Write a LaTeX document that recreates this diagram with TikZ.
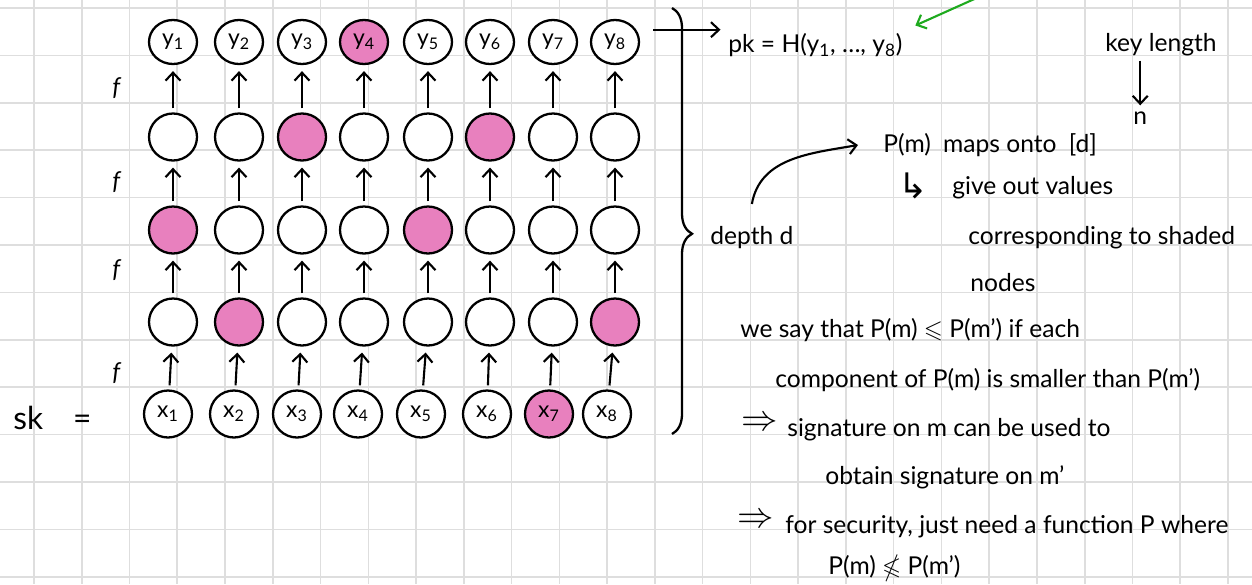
\documentclass[tikz,border=0pt]{standalone}
\usepackage{fontspec}
\setmainfont{Lato}
\newfontfamily\symfont{DejaVu Sans}
\usepackage{amssymb}
\usetikzlibrary{shapes.geometric, arrows.meta, decorations.pathreplacing, positioning}
\definecolor{shade}{RGB}{232,128,190}
\definecolor{gridgrey}{RGB}{222,222,222}
\definecolor{pengreen}{RGB}{30,170,30}

\begin{document}
\begin{tikzpicture}[
    x=0.2mm, y=-0.2mm,
    bit/.style={ellipse, draw, line width=1.3pt, minimum width=9.6mm, minimum height=9.4mm, inner sep=0pt, font=\fontsize{13}{15}\selectfont},
    arr/.style={-{Straight Barb[length=1.6mm,width=3mm]}, line width=1.2pt, shorten <=0.8mm, shorten >=1.2mm},
    note/.style={anchor=west, inner sep=0pt, font=\fontsize{14}{16}\selectfont},
    gridline/.style={gridgrey, line width=0.9pt}
]
    \useasboundingbox (0,0) rectangle (1252,584);

    % Grid paper
    \foreach \k in {0,...,25} \draw[gridline] (34+47.76*\k,0) -- (34+47.76*\k,584);
    \foreach \k in {0,...,12} \draw[gridline] (0,8+47.4*\k) -- (1252,8+47.4*\k);

    % Chains x_i -> ... -> y_i
    \foreach \i/\cx/\bx/\fy/\fa/\fb/\fc/\fx in {
        1/173/168/white/white/shade/white/white,
        2/239/234/white/white/white/shade/white,
        3/302/297/white/shade/white/white/white,
        4/364/358/shade/white/white/white/white,
        5/428/421/white/white/shade/white/white,
        6/490/487/white/shade/white/white/white,
        7/553/549/white/white/white/white/shade,
        8/615/607/white/white/white/shade/white}{
        \node[bit, fill=\fy, minimum height=8.8mm] (y\i) at (\cx,42) {y\textsubscript{\i}};
        \node[bit, fill=\fa] (a\i) at (\cx,137) {};
        \node[bit, fill=\fb] (b\i) at (\cx,230) {};
        \node[bit, fill=\fc] (c\i) at (\cx,322) {};
        \node[bit, fill=\fx] (x\i) at (\bx,414) {x\textsubscript{\i}};
        \draw[arr] (x\i) -- (c\i);
        \draw[arr] (c\i) -- (b\i);
        \draw[arr] (b\i) -- (a\i);
        \draw[arr] (a\i) -- (y\i);
    }

    % f labels and sk
    \node[note] (f1) at (112,88) {\textit{f}};
    \node[note] (f2) at (112,182) {\textit{f}};
    \node[note] (f3) at (112,270) {\textit{f}};
    \node[note] (f4) at (112,373) {\textit{f}};
    \node[note, font=\fontsize{18}{20}\selectfont] (sk) at (13,418) {sk\hspace{6mm}=};

    % Brace over the depth
    \draw[line width=1.3pt, decorate, decoration={brace, amplitude=4mm, aspect=0.53}] (672,8) -- (672,434);
    \node[note] (depth) at (710,238) {depth d};

    % Public key
    \node[note] (pk) at (728,45) {pk = H(y\textsubscript{1}, …, y\textsubscript{8})};
    \draw[arr, shorten <=3.4mm, shorten >=1.5mm] (y8.30) -- (y8.30 -| pk.west);
    \coordinate (hashnote) at (990,-8);
    \draw[arr, pengreen, shorten <=0pt, shorten >=0pt] (hashnote) -- ([xshift=2.5mm,yshift=1.5mm]pk.north east);

    \node[note] (keylen) at (1105,45) {key length};
    \node[note] (keyexp) at (1133,118) {n};
    \draw[arr] (keyexp |- keylen.south) -- (keyexp.north);

    \node[note] (maps) at (883,145) {P(m)\enspace maps onto\enspace [d]};
    \draw[arr, shorten <=0pt, shorten >=0pt] ([yshift=4.5mm]depth.north) to[out=80, in=190] ([xshift=-5mm]maps.west);

    \node[note] (hook) at (898,186) {{\symfont\fontsize{20}{22}\selectfont ↳}};
    \node[note] (give) at (952,188) {give out values};
    \node[note] (shaded) at (968,238) {corresponding to shaded};
    \node[note] (nodes) at (970,283) {nodes};

    % Partial order
    \node[note] (order) at (740,330) {we say that P(m) $\leqslant$ P(m') if each};
    \node[note] (comp) at (775,380) {component of P(m) is smaller than P(m')};
    \node[note, font=\fontsize{20}{22}\selectfont] (imp1) at (741,424) {$\Rightarrow$};
    \node[note] (sig) at (787,430) {signature on m can be used to};
    \node[note] (obtain) at (825,477) {obtain signature on m'};
    \node[note, font=\fontsize{20}{22}\selectfont] (imp2) at (737,521) {$\Rightarrow$};
    \node[note] (secure) at (785,527) {for security, just need a function P where};
    \node[note] (cond) at (828,568) {P(m) $\nleqslant$ P(m')};
\end{tikzpicture}
\end{document}
